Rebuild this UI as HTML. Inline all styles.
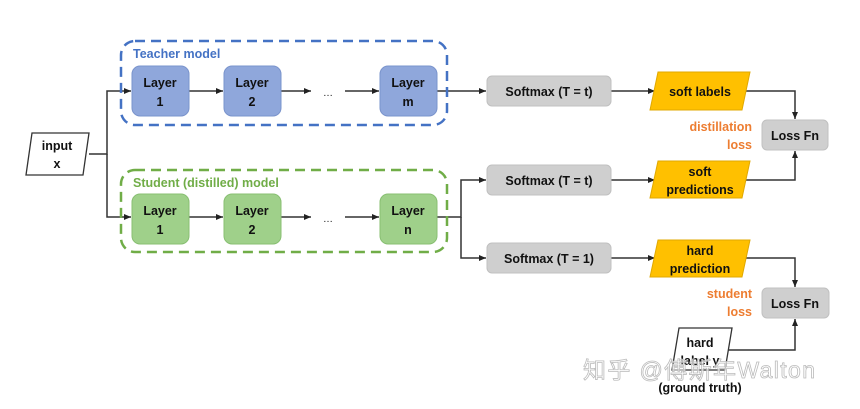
<!DOCTYPE html>
<html><head><meta charset="utf-8"><style>
html,body{margin:0;padding:0;background:#fff;width:860px;height:409px;overflow:hidden}
text{font-family:"Liberation Sans","Noto Sans CJK SC",sans-serif;font-weight:bold;font-size:12.5px;fill:#111}
</style></head><body>
<svg width="860" height="409" viewBox="0 0 860 409" xmlns="http://www.w3.org/2000/svg">
<defs>
<marker id="a" markerWidth="8" markerHeight="8" refX="7" refY="4" orient="auto" markerUnits="userSpaceOnUse"><path d="M0,1 L7,4 L0,7 Z" fill="#222"/></marker>
</defs>
<g stroke="#333" stroke-width="1.5" fill="none">
<path d="M89,154 H107 V91 H131" marker-end="url(#a)"/>
<path d="M107,154 V217 H131" marker-end="url(#a)"/>
<path d="M189,91 H223" marker-end="url(#a)"/>
<path d="M281,91 H311" marker-end="url(#a)"/>
<path d="M345,91 H379" marker-end="url(#a)"/>
<path d="M189,217 H223" marker-end="url(#a)"/>
<path d="M281,217 H311" marker-end="url(#a)"/>
<path d="M345,217 H379" marker-end="url(#a)"/>
<path d="M437,91 H486" marker-end="url(#a)"/>
<path d="M437,217 H461 V180 H486" marker-end="url(#a)"/>
<path d="M461,217 V258 H486" marker-end="url(#a)"/>
<path d="M611,91 H655" marker-end="url(#a)"/>
<path d="M611,180 H655" marker-end="url(#a)"/>
<path d="M611,258 H655" marker-end="url(#a)"/>
<path d="M745,91 H795 V119" marker-end="url(#a)"/>
<path d="M745,180 H795 V151" marker-end="url(#a)"/>
<path d="M745,258 H795 V287" marker-end="url(#a)"/>
<path d="M725,350 H795 V319" marker-end="url(#a)"/>
</g>
<rect x="121" y="41" width="326" height="84" rx="14" fill="none" stroke="#4472c4" stroke-width="2.5" stroke-dasharray="10,6"/>
<rect x="121" y="170" width="326" height="82" rx="14" fill="none" stroke="#70ad47" stroke-width="2.5" stroke-dasharray="10,6"/>
<text x="133" y="58" style="fill:#4472c4">Teacher model</text>
<text x="133" y="187" style="fill:#70ad47">Student (distilled) model</text>
<g stroke-width="1">
<rect x="132" y="66" width="57" height="50" rx="8" fill="#8fa7db" stroke="#7a94cc"/>
<rect x="224" y="66" width="57" height="50" rx="8" fill="#8fa7db" stroke="#7a94cc"/>
<rect x="380" y="66" width="57" height="50" rx="8" fill="#8fa7db" stroke="#7a94cc"/>
<rect x="132" y="194" width="57" height="50" rx="8" fill="#9fd08a" stroke="#88bf72"/>
<rect x="224" y="194" width="57" height="50" rx="8" fill="#9fd08a" stroke="#88bf72"/>
<rect x="380" y="194" width="57" height="50" rx="8" fill="#9fd08a" stroke="#88bf72"/>
</g>
<g text-anchor="middle">
<text x="160" y="87">Layer</text><text x="160" y="106">1</text>
<text x="252" y="87">Layer</text><text x="252" y="106">2</text>
<text x="408" y="87">Layer</text><text x="408" y="106">m</text>
<text x="160" y="215">Layer</text><text x="160" y="234">1</text>
<text x="252" y="215">Layer</text><text x="252" y="234">2</text>
<text x="408" y="215">Layer</text><text x="408" y="234">n</text>
<text x="328" y="96" style="font-weight:normal;font-size:10px">…</text>
<text x="328" y="222" style="font-weight:normal;font-size:10px">…</text>
</g>
<polygon points="32,133 89,133 83,175 26,175" fill="#fff" stroke="#333" stroke-width="1.3"/>
<text x="57" y="150" text-anchor="middle">input</text><text x="57" y="168" text-anchor="middle">x</text>
<g fill="#cfcfcf" stroke="#c0c0c0">
<rect x="487" y="76" width="124" height="30" rx="5"/>
<rect x="487" y="165" width="124" height="30" rx="5"/>
<rect x="487" y="243" width="124" height="30" rx="5"/>
<rect x="762" y="120" width="66" height="30" rx="5"/>
<rect x="762" y="288" width="67" height="30" rx="5"/>
</g>
<g text-anchor="middle">
<text x="549" y="96">Softmax (T = t)</text>
<text x="549" y="185">Softmax (T = t)</text>
<text x="549" y="263">Softmax (T = 1)</text>
<text x="795" y="140">Loss Fn</text>
<text x="795" y="308">Loss Fn</text>
</g>
<g fill="#ffc000" stroke="#e0a800">
<polygon points="658,72 750,72 742,110 650,110"/>
<polygon points="658,161 750,161 742,198 650,198"/>
<polygon points="658,240 750,240 742,277 650,277"/>
</g>
<g text-anchor="middle">
<text x="700" y="96">soft labels</text>
<text x="700" y="176">soft</text><text x="700" y="194">predictions</text>
<text x="700" y="255">hard</text><text x="700" y="273">prediction</text>
</g>
<text x="752" y="131" text-anchor="end" style="fill:#ed7d31">distillation</text>
<text x="752" y="149" text-anchor="end" style="fill:#ed7d31">loss</text>
<text x="752" y="298" text-anchor="end" style="fill:#ed7d31">student</text>
<text x="752" y="316" text-anchor="end" style="fill:#ed7d31">loss</text>
<polygon points="679,328 732,328 725,370 672,370" fill="#fff" stroke="#333" stroke-width="1.3"/>
<text x="700" y="347" text-anchor="middle">hard</text>
<text x="700" y="365" text-anchor="middle">label y</text>
<text x="700" y="392" text-anchor="middle">(ground truth)</text>
<text x="583" y="378" textLength="232" style="font-weight:normal;font-size:23px;fill:#fff;fill-opacity:0.7;stroke:#bbb;stroke-width:0.8">知乎 @傅斯年Walton</text>
</svg>
</body></html>
